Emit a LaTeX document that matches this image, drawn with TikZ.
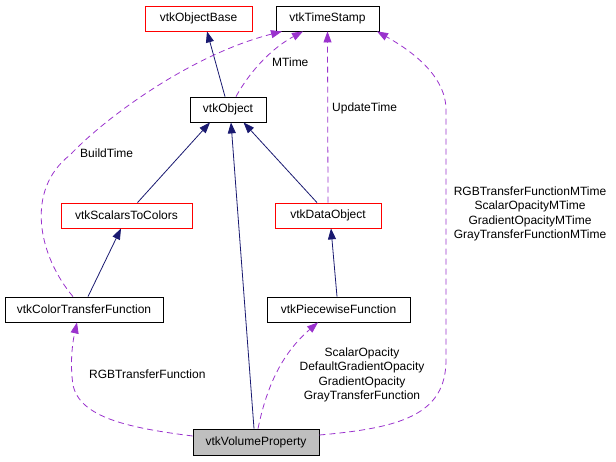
\documentclass[tikz,border=0pt]{standalone}
\usepackage{fontspec}
\setmainfont{Liberation Sans}
\usetikzlibrary{arrows.meta}
\definecolor{edgeblue}{HTML}{191970}
\definecolor{edgepurple}{HTML}{9A32CD}
\begin{document}
\begin{tikzpicture}[x=1pt, y=-1pt, font=\fontsize{12}{14.5}\selectfont]

% Define styles for the nodes and edges
\tikzstyle{cls} = [rectangle, draw=black, fill=white, line width=0.8pt, minimum height=25pt, inner sep=0pt, text centered]
\tikzstyle{partial} = [cls, draw=red]
\tikzstyle{inherit} = [draw=edgeblue, line width=0.8pt, -{Triangle[length=11pt, width=8pt]}]
\tikzstyle{uses} = [draw=edgepurple, line width=0.8pt, dash pattern=on 6pt off 4pt, -{Triangle[length=11pt, width=8pt]}]
\tikzstyle{lbl} = [inner sep=0pt, anchor=west]

\useasboundingbox (0,0) rectangle (616,461);

% Nodes
\node (objbase) [partial, minimum width=107pt] at (198.5,18.5) {vtkObjectBase};
\node (timestamp) [cls, minimum width=103pt] at (327.5,18.5) {vtkTimeStamp};
\node (object) [cls, minimum width=76pt] at (228,109.5) {vtkObject};
\node (scalars) [partial, minimum width=131pt] at (126.5,215.5) {vtkScalarsToColors};
\node (dataobj) [partial, minimum width=106pt] at (328,215.5) {vtkDataObject};
\node (colortf) [cls, minimum width=158pt] at (84,309.5) {vtkColorTransferFunction};
\node (piecewise) [cls, minimum width=143pt] at (338.5,309.5) {vtkPiecewiseFunction};
\node (volprop) [cls, fill={rgb,255:red,191;green,191;blue,191}, minimum width=126pt, minimum height=26pt] at (256,442) {vtkVolumeProperty};

% Inheritance arrows
\draw[inherit] ([xshift=-3]object.north) -- ([xshift=8.5]objbase.south);
\draw[inherit] ([xshift=11]scalars.north) -- ([xshift=-18]object.south);
\draw[inherit] ([xshift=-2]volprop.north) -- ([xshift=3]object.south);
\draw[inherit] ([xshift=-11]dataobj.north) -- ([xshift=15.5]object.south);
\draw[inherit] ([xshift=4]colortf.north) -- ([xshift=-5.5]scalars.south);
\draw[inherit] ([xshift=-1.5]piecewise.north) -- ([xshift=3]dataobj.south);

% Usage arrows
\draw[uses] ([xshift=8]object.north) .. controls (245,80) and (265,52) .. ([xshift=-24.5]timestamp.south);
\node (mtime) [lbl] at (272,62) {MTime};
\draw[uses] (dataobj.north) -- (timestamp.south);
\node (updtime) [lbl] at (332,108) {UpdateTime};
\draw[uses] ([xshift=-11]colortf.north) .. controls (38,255) and (25,190) .. (70,155) .. controls (105,118) and (190,55) .. ([xshift=-45.5]timestamp.south);
\node (buildtime) [lbl] at (80,153) {BuildTime};
\draw[uses] ([yshift=7]volprop.east) .. controls (400,428) and (446,415) .. (446,360) -- (446,110) .. controls (446,75) and (410,50) .. ([xshift=49.5]timestamp.south);
\node (mtimes) [align=center, inner sep=0pt] at (530,214) {RGBTransferFunctionMTime\\ScalarOpacityMTime\\GradientOpacityMTime\\GrayTransferFunctionMTime};
\draw[uses] ([yshift=6]volprop.west) .. controls (130,428) and (80,418) .. (73,385) .. controls (70,365) and (72,345) .. ([xshift=-7]colortf.south);
\node (rgbtf) [lbl] at (89,374) {RGBTransferFunction};
\draw[uses] ([xshift=2]volprop.north) .. controls (266,390) and (280,355) .. ([xshift=-20.5]piecewise.south);
\node (opacities) [align=center, inner sep=0pt] at (362,375) {ScalarOpacity\\DefaultGradientOpacity\\GradientOpacity\\GrayTransferFunction};

\end{tikzpicture}
\end{document}
